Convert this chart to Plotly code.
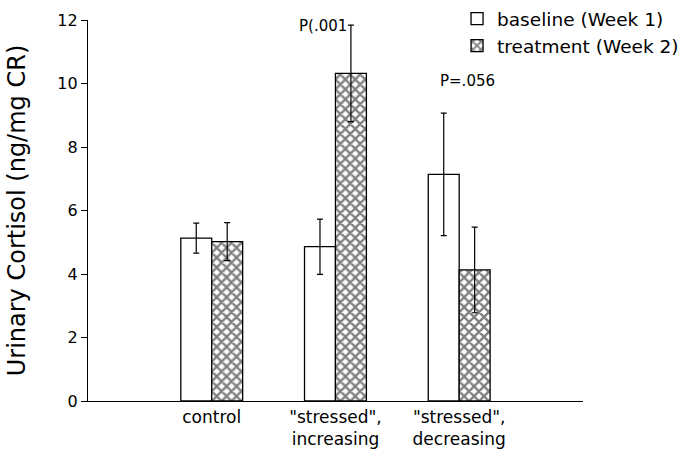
import plotly.graph_objects as go

categories = ["control", "\"stressed\",<br>increasing", "\"stressed\",<br>decreasing"]
baseline = [5.13, 4.86, 7.14]
baseline_err = [0.47, 0.87, 1.93]
treatment = [5.02, 10.32, 4.13]
treatment_err = [0.60, 1.52, 1.35]
y_ticks = [0, 2, 4, 6, 8, 10, 12]
y_max = 12
p_labels = ["P(.001", "P=.056"]
p_x = [0.90, 2.07]
p_y = [12.15, 10.43]

FONT = "DejaVu Sans"

fig = go.Figure()
fig.add_trace(go.Bar(
    x=categories, y=baseline, name="baseline (Week 1)",
    marker=dict(color="white", line=dict(color="black", width=1.3)),
    error_y=dict(type="data", array=baseline_err, color="black", thickness=1.2, width=3),
))
fig.add_trace(go.Bar(
    x=categories, y=treatment, name="treatment (Week 2)",
    marker=dict(color="white", line=dict(color="black", width=1.3),
                pattern=dict(shape="x", fgcolor="black", bgcolor="white", size=7, solidity=0.55)),
    error_y=dict(type="data", array=treatment_err, color="black", thickness=1.2, width=3),
))

for t, xx, yy in zip(p_labels, p_x, p_y):
    fig.add_annotation(x=xx, y=yy / y_max, xref="x", yref="y domain", text=t, showarrow=False,
                       font=dict(family=FONT, size=15, color="black"))

fig.update_layout(
    width=699, height=454, autosize=False,
    margin=dict(l=88, r=0, t=0, b=53, pad=0),
    paper_bgcolor="white", plot_bgcolor="white",
    barmode="group", bargap=0.5, bargroupgap=0,
    font=dict(family=FONT, color="black"),
    showlegend=True,
    legend=dict(x=0.604, y=1.0, xanchor="left", yanchor="top",
                font=dict(family=FONT, size=18.5, color="black"),
                bgcolor="rgba(0,0,0,0)", itemwidth=30, tracegroupgap=0),
    xaxis=dict(domain=[0, 0.81], range=[-1, 3], showline=True, linecolor="black", linewidth=1.2,
               ticks="", showgrid=False, zeroline=False, automargin=False,
               tickfont=dict(family=FONT, size=17, color="black")),
    yaxis=dict(domain=[0, 0.95], range=[0, y_max], tickvals=y_ticks, showline=True,
               linecolor="black", linewidth=1.2,
               ticks="outside", ticklen=6, tickcolor="black", tickwidth=1.2,
               showgrid=False, zeroline=False, automargin=False,
               tickfont=dict(family=FONT, size=16, color="black"),
               title=dict(text="Urinary Cortisol (ng/mg CR)", standoff=24,
                          font=dict(family=FONT, size=24, color="black"))),
    yaxis2=dict(domain=[0, 0.95], range=[0, y_max], tickvals=y_ticks, overlaying="y",
                side="left", anchor="x",
                ticks="inside", ticklen=6, tickcolor="black", tickwidth=1.2,
                showticklabels=False, showline=False, showgrid=False, zeroline=False),
)

fig.write_html("out.html", config={"displayModeBar": False},
               post_script="document.body.style.margin='0px';")
